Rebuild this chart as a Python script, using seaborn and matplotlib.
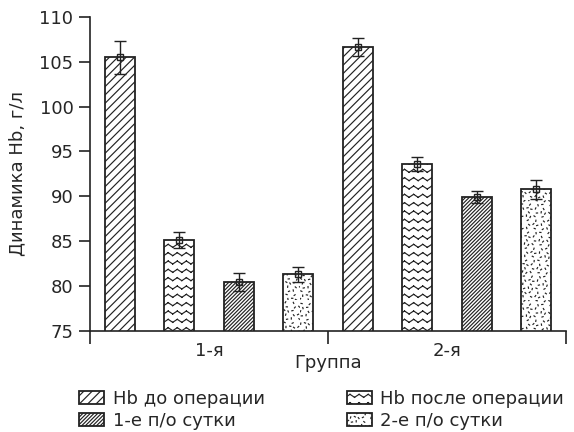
import numpy as np
import pandas as pd
import matplotlib
matplotlib.use("Agg")
import matplotlib.pyplot as plt
import matplotlib.hatch as mhatch
from matplotlib.path import Path
import seaborn as sns

# data
groups = ["1-я", "2-я"]
periods = ["Hb до операции", "Hb после операции", "1-е п/о сутки", "2-е п/о сутки"]
hb_group1 = [105.5, 85.1, 80.4, 81.3]
hb_group2 = [106.6, 93.6, 89.9, 90.8]
err_group1 = [1.85, 0.9, 1.0, 0.85]
err_group2 = [1.0, 0.8, 0.7, 1.05]


# extra hatch textures: 'z' = zigzag rows, 'k' = speckle
# (drawn as separate segments, Agg fills closed hatch paths otherwise)
class ZigZagHatch(mhatch.HatchPatternBase):
    def __init__(self, hatch, density):
        self.rows = hatch.count("z") * 12
        self.segs = 22
        self.num_vertices = self.rows * self.segs * 2

    def set_vertices_and_codes(self, vertices, codes):
        xs = np.linspace(0, 1, self.segs + 1)
        amp = np.where(np.arange(self.segs + 1) % 2 == 0, -0.015, 0.015)
        k = 0
        for r in range(self.rows):
            ys = (r + 0.5) / self.rows + amp
            for s in range(self.segs):
                vertices[k] = (xs[s], ys[s])
                vertices[k + 1] = (xs[s + 1], ys[s + 1])
                codes[k] = Path.MOVETO
                codes[k + 1] = Path.LINETO
                k += 2


class SpeckleHatch(mhatch.HatchPatternBase):
    def __init__(self, hatch, density):
        self.n = hatch.count("k") * 420
        self.num_vertices = self.n * 2

    def set_vertices_and_codes(self, vertices, codes):
        i = np.arange(1, self.n + 1)
        px = (0.5 + i * 0.7548776662) % 1.0
        py = (0.5 + i * 0.5698402910) % 1.0
        ang = (i * 2.39996) % np.pi
        d = 0.006
        vertices[0::2, 0] = px - d * np.cos(ang)
        vertices[0::2, 1] = py - d * np.sin(ang)
        vertices[1::2, 0] = px + d * np.cos(ang)
        vertices[1::2, 1] = py + d * np.sin(ang)
        codes[0::2] = Path.MOVETO
        codes[1::2] = Path.LINETO


mhatch._hatch_types.extend([ZigZagHatch, SpeckleHatch])
mhatch._validate_hatch_pattern = lambda h: None

hatches = ["////", "z", "/" * 9, "k"]

df = pd.DataFrame({
    "Группа": [g for g in groups for _ in periods],
    "period": periods * 2,
    "Hb": hb_group1 + hb_group2,
    "err": err_group1 + err_group2,
})

sns.set_style("ticks")
plt.rcParams["font.family"] = ["DejaVu Sans"]
plt.rcParams["hatch.linewidth"] = 0.85

fig = plt.figure(figsize=(5.74, 4.32), dpi=100)
ax = fig.add_axes([0.157, 0.234, 0.829, 0.727])

sns.barplot(data=df, x="Группа", y="Hb", hue="period", hue_order=periods,
            order=groups, width=1.0, gap=0.5, errorbar=None, legend=False,
            palette=["white"] * 4, ax=ax)

bar_conts = list(ax.containers)
for i, cont in enumerate(bar_conts):
    sub = df[df["period"] == periods[i]].set_index("Группа").loc[groups]
    xs = []
    for bar in cont:
        bar.set_facecolor("white")
        bar.set_edgecolor("#222222")
        bar.set_linewidth(1.3)
        bar.set_hatch(hatches[i])
        xs.append(bar.get_x() + bar.get_width() / 2)
    ax.errorbar(xs, sub["Hb"], yerr=sub["err"], fmt="s", ms=5, mfc="none",
                mec="#222222", mew=1.0, ecolor="#222222", elinewidth=1.0,
                capsize=4.5, capthick=1.0, zorder=5)

ax.set_ylim(75, 110)
ax.set_yticks(np.arange(75, 111, 5))
ax.set_xlim(-0.5, 1.5)
ax.set_xticks([0, 1])
ax.set_xticklabels(groups)
ax.set_xticks([-0.5, 0.5, 1.5], minor=True)
ax.tick_params(axis="x", which="major", length=0, labelsize=13, pad=8)
ax.tick_params(axis="x", which="minor", length=9, width=1.2, color="#222222")
ax.tick_params(axis="y", length=8, width=1.2, color="#222222", labelsize=13, pad=4)
sns.despine(ax=ax)
for s in ["left", "bottom"]:
    ax.spines[s].set_linewidth(1.2)
    ax.spines[s].set_color("#222222")

ax.set_ylabel("Динамика Hb, г/л", fontsize=13)
ax.yaxis.set_label_coords(-0.135, 0.5)
ax.set_xlabel("Группа", fontsize=13)
ax.xaxis.set_label_coords(0.5, -0.073)

order = [0, 2, 1, 3]
fig.legend([bar_conts[k] for k in order], [periods[k] for k in order],
           ncol=2, loc="upper left", bbox_to_anchor=(0.138, 0.097),
           frameon=False, fontsize=13, handlelength=1.4, handleheight=0.7,
           handletextpad=0.45, columnspacing=4.55, labelspacing=0.2,
           borderpad=0, borderaxespad=0)

fig.savefig("out.png", dpi=100)
